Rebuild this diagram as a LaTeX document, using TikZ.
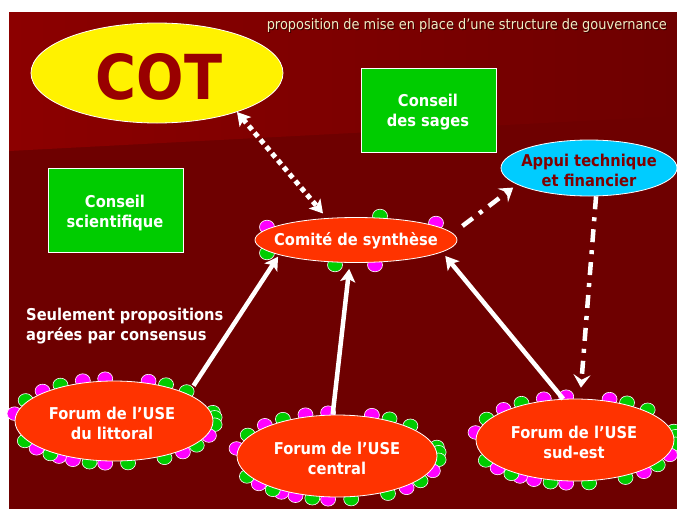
\documentclass[tikz,border=0pt]{standalone}
\usepackage{fontspec}
\setmainfont{DejaVu Sans}[FakeStretch=0.9]
\usetikzlibrary{shapes.geometric,arrows.meta,calc}
\definecolor{bgdark}{RGB}{110,0,0}
\definecolor{bglight}{RGB}{140,0,0}
\definecolor{cotred}{RGB}{153,0,0}
\definecolor{forumred}{RGB}{255,51,0}
\definecolor{sagegreen}{RGB}{0,204,0}
\definecolor{dotgreen}{RGB}{0,204,0}
\definecolor{dotmag}{RGB}{255,0,255}
\definecolor{appcyan}{RGB}{0,204,255}
\definecolor{titlecream}{RGB}{242,236,196}
\definecolor{appuitext}{RGB}{128,0,0}
\newcommand\dotring[4]{%
  \foreach \a/\c in {70/dotmag,59/dotgreen,44/dotgreen,12/dotgreen,5/dotgreen,355/dotgreen,340/dotmag,325/dotgreen,313/dotmag,300/dotgreen,278/dotgreen,265/dotmag,256/dotgreen,246/dotmag,237/dotmag,231/dotgreen,220/dotmag,208/dotgreen,170/dotmag,151/dotgreen,135/dotmag,122/dotgreen,108/dotmag,95/dotmag}{%
    \filldraw[dotstyle, fill=\c] ({#1+(#3+2)*cos(\a)},{#2-(#4+2.5)*sin(\a)}) ellipse [x radius=7.5pt, y radius=6.8pt];
  }%
}
\begin{document}
\begin{tikzpicture}[x=1pt,y=-1pt,
  oval/.style={ellipse, draw=white, line width=0.8pt, inner sep=0pt},
  gbox/.style={rectangle, draw=white, line width=0.8pt, fill=sagegreen, inner sep=0pt},
  lbl/.style={font=\bfseries\fontsize{16.3}{20}\selectfont, text=white, align=center, inner sep=0pt},
  dotstyle/.style={draw=white, line width=0.6pt},
  solidarr/.style={draw=white, line width=4.5pt, -{Stealth[length=13pt,width=15pt,inset=3pt]}},
  dotarr/.style={draw=white, line width=5pt, dash pattern=on 5pt off 4pt, {Stealth[length=13pt,width=15pt,inset=3pt]}-{Stealth[length=13pt,width=15pt,inset=3pt]}},
  dasharr/.style={draw=white, line width=4.5pt, dash pattern=on 13pt off 8pt on 4pt off 8pt, -{Stealth[length=13pt,width=17pt,inset=5pt]}}
]
\useasboundingbox (0,0) rectangle (677,509);
\fill[white] (0,0) rectangle (677,509);
\fill[bgdark] (9,12) rectangle (677,509);
\shade[left color=bglight, right color=bgdark] (9,12) -- (677,12) -- (677,116) -- (9,151) -- cycle;

% title
\node[anchor=base east, text=black!80!red, font=\fontsize{14.4}{17}\selectfont, inner sep=0pt] (titleshadow) at (668,30) {proposition de mise en place d’une structure de gouvernance};
\node[anchor=base east, text=titlecream, font=\fontsize{14.4}{17}\selectfont, inner sep=0pt] (title) at (667,29) {proposition de mise en place d’une structure de gouvernance};

% COT
\node[oval, fill=yellow, minimum width=252pt, minimum height=100pt] (cot) at (157,73) {};
\node[anchor=base, text=cotred, font=\bfseries\fontsize{62}{62}\selectfont, inner sep=0pt] (cottext) at (159,99) {COT};

% green boxes
\node[gbox, minimum width=135pt, minimum height=84pt] (sages) at (428.5,110) {};
\node[lbl] (sagestext) at (428,112) {Conseil\\des sages};
\node[gbox, minimum width=135pt, minimum height=84pt] (scient) at (115.5,210) {};
\node[lbl] (scienttext) at (115,213) {Conseil\\scientifique};

% Appui
\node[oval, fill=appcyan, minimum width=176pt, minimum height=56pt] (app) at (589,168) {};
\node[lbl, text=appuitext] (apptext) at (589,170) {Appui technique\\et financier};

% Comite dots
\filldraw[dotstyle, fill=dotmag] (267,227) ellipse [x radius=7.5pt, y radius=6.8pt];
\filldraw[dotstyle, fill=dotgreen] (267,253) ellipse [x radius=7.5pt, y radius=6.8pt];
\filldraw[dotstyle, fill=dotgreen] (380,216) ellipse [x radius=7.5pt, y radius=6.8pt];
\filldraw[dotstyle, fill=dotmag] (436,223) ellipse [x radius=7.5pt, y radius=6.8pt];
\filldraw[dotstyle, fill=dotgreen] (335,265) ellipse [x radius=7.5pt, y radius=6.8pt];
\filldraw[dotstyle, fill=dotmag] (375,265) ellipse [x radius=7.5pt, y radius=6.8pt];
\node[oval, fill=forumred, minimum width=202pt, minimum height=45pt] (com) at (356,240) {};
\node[lbl] (comtext) at (356,241) {Comité de synthèse};

% forums
\dotring{114}{421}{99}{40}
\node[oval, fill=forumred, minimum width=198pt, minimum height=80pt] (lit) at (114,421) {};
\node[lbl] (littext) at (112,423) {Forum de l’USE\\du littoral};

\dotring{337}{456}{100}{41}
\node[oval, fill=forumred, minimum width=200pt, minimum height=82pt] (cen) at (337,456) {};
\node[lbl] (centext) at (337,458) {Forum de l’USE\\central};

\dotring{575}{440}{99}{41}
\node[oval, fill=forumred, minimum width=198pt, minimum height=82pt] (sud) at (575,440) {};
\node[lbl] (sudtext) at (574,442) {Forum de l’USE\\sud-est};

% note
\node[lbl, anchor=west, align=left] (note) at (26,326) {Seulement propositions\\agrées par consensus};

% arrows
\draw[dotarr, shorten >=6pt] (cot.-26) -- (com.143);
\draw[dasharr, shorten <=12pt, shorten >=5pt] (com.4) -- (app.193);
\draw[dasharr, shorten >=11pt] (app.-76) -- (sud.83);
\draw[solidarr, shorten <=10pt, shorten >=2pt] (lit.20) -- (com.191);
\draw[solidarr, shorten >=6pt] (cen.96) -- (com.-105);
\draw[solidarr, shorten >=5pt] (sud.106) -- (com.-8.5);
\end{tikzpicture}
\end{document}
